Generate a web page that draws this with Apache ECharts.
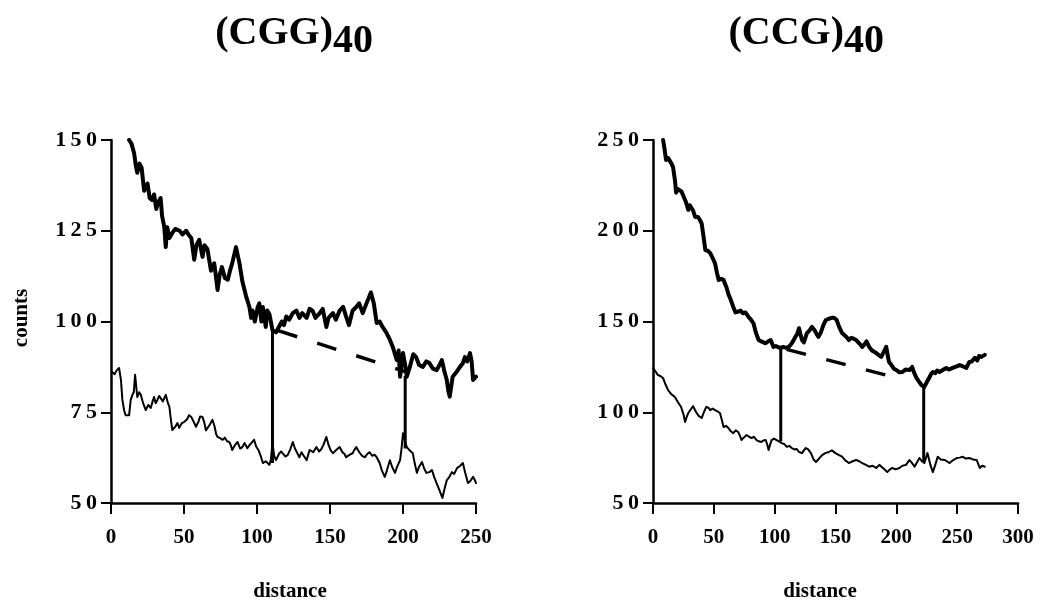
<!DOCTYPE html>
<html>
<head>
<meta charset="utf-8">
<script src="https://cdn.jsdelivr.net/npm/echarts@6/dist/echarts.min.js"></script>
<style>
html,body{margin:0;padding:0;background:#fff;}
#chart{width:1041px;height:610px;}
</style>
</head>
<body>
<div id="chart"></div>
<script>
// ---------- DATA ----------
// Left panel: (CGG)40
var cggTop = [[12.4,150],[14,149],[15.8,146.4],[17,143],[18,141],[19.5,143.5],[21,142.3],[22.7,136],[25,138],[26.5,134],[28,133.5],[29.5,135],[31,131],[32.5,133],[34,134],[35,129],[36.5,126],[37.5,120.5],[38.5,126],[40,123],[42,124.4],[44,125.5],[47,125],[49,124],[51.5,125],[53,124],[55,123],[57,117],[58.5,121],[60.4,122.5],[62.7,117.8],[64,121],[66,120],[68.5,114],[70.7,116],[72,112],[73,108.7],[74.5,113],[76,115],[78,112],[80,111.5],[81.5,114],[83,116],[85.6,120.5],[88,116],[90,111],[92.5,107],[94.8,104],[96,101],[97,103],[98.5,100],[99.6,99.5],[100.5,104],[101.6,105],[103,100],[104,104],[106,98.5],[107,103],[108.5,102],[110.6,97.6],[113,97],[115,98.5],[117,100],[118.5,99],[120,101.4],[122,100.5],[124.5,102.3],[127,103],[129,101],[131,102.3],[134,101],[136,103.5],[138,103],[140,101],[143,102.3],[145,103.5],[147.5,98.5],[149,101],[152,102.3],[154,100.5],[156.6,103],[159,104],[161,101.4],[163,99],[165.5,103],[168,104],[170,105],[172.4,102.3],[175,105],[178,108],[180,105],[182,99.6],[184,100],[186,98.5],[188.5,97],[191,95],[193,93],[195.7,89.4],[197,92],[198,84.8],[200,91.3],[201.5,88],[202.6,84.8],[204.7,87.5],[207,91],[209,90.2],[211,88],[213.6,87.5],[216,89],[218,88.6],[220.5,87],[223,86.6],[225,88],[226.6,89.4],[228.5,86],[230,83.9],[231,81],[232,79.3],[234,84.8],[236.5,86],[239,87.5],[241,88.5],[242.4,90.2],[244,89],[245.9,91.3],[247,89],[248,83.9],[250,84.8]];
var cggBottom = [[0.7,86.1],[2.5,85.5],[4,86.6],[5.5,87.2],[6.8,84],[7.8,78.4],[9,75.5],[10,74.2],[12.4,74.2],[13.5,78.4],[14.7,79.8],[15.6,80.5],[16.5,85.3],[18,79.2],[19.3,80.5],[20.4,79.8],[22,77.5],[23.8,75.6],[25.5,77],[27.2,76.2],[28.5,78],[29.5,79.2],[30.6,77.5],[31.8,78.4],[33,79.5],[34,79.2],[35.5,78],[37.5,79.8],[39,77.5],[40,76.5],[41,73],[42,70.1],[44,71],[45.5,72],[46.7,70.7],[48.5,72],[50,72.3],[52,73],[53.5,74.2],[55,73.7],[56.5,72.5],[58.2,71],[60,72.5],[61,73.8],[62.7,73.7],[64,72],[65,70],[66,69.6],[67.5,71.5],[69.5,72.9],[71,71],[72,69],[73,68.2],[75,67.8],[76.5,67.4],[78,68],[79.5,67],[81,66.8],[82,66],[83,64.6],[85,66],[86.7,66.8],[88.5,65],[90,65.4],[91.5,66.5],[93.4,65.1],[95,66],[96.5,66.7],[98,67.4],[99.5,65.5],[101,64.6],[102.5,63],[104,61],[106,61.5],[107,62],[108.5,60.5],[109.5,62],[110.6,66.5],[111.8,63],[113,61.8],[115,63.5],[116.5,64.2],[117.5,64],[119.5,62.8],[121,63.2],[123,65],[124.5,66.8],[126,65],[127.5,63.8],[129,62.6],[130.5,64],[132,63],[134,61.8],[136,64.6],[138.5,64],[140.7,65.4],[142.5,64.2],[144,64.8],[145.5,66],[147.5,68.2],[149,66],[150.5,64.5],[152,63.7],[154,64.5],[156.6,65.4],[158.5,64],[160,63.5],[161,62.6],[163,63.2],[165.5,63.7],[166.5,64.5],[168,65.4],[170,64],[172,63],[174,62.6],[175.5,63.5],[177,64],[179,63],[180.5,63.3],[182,62.6],[184,61],[185.5,59],[187.5,57.2],[189,59],[191,61.8],[192.5,60],[194.5,58.3],[196,60],[198,61.8],[199,65],[200,69.2],[201,67.5],[202.6,65.4],[204.5,64.5],[206.7,63.7],[208,61],[209.5,58.3],[211,60],[213,61.3],[214.5,59.5],[216,58.3],[218,58.5],[219.8,59.1],[221.5,57],[223,55.5],[225,53.5],[227,51.4],[228.5,54],[230,56.3],[231.5,57],[233.5,58.5],[235,58],[237,59.6],[239,60.2],[241,61],[242.5,58.5],[244.5,55.5],[246,56],[248,57.2],[249,56.5],[250,55.5]];
var cggLinkX = [110.6, 201.5];
var cggLinkTop = [98, 85];
var cggLinkBottom = [61, 65];
var cggBaseline = [[110.6, 98], [201.5, 86.2]];

// Right panel: (CCG)40
var ccgTop = [[8.3,250],[9.5,245],[10.7,239],[12.5,240],[14,239],[15.2,237],[16.5,235],[18,228],[19,221],[20.5,223],[22,224],[23.5,221.5],[24.8,221],[27,216],[29,211.5],[30.3,214],[31.4,215],[33,211],[34.7,207.6],[36,208.5],[37,207.6],[38.5,206],[40,204],[41.5,197],[43,189.4],[45,189],[47,187.7],[49,185],[51,182],[52.5,177],[54,172.9],[56,173.5],[58,172.9],[59,171],[60.3,169],[62,165],[64,161.8],[66,158],[67.8,155],[70,155.5],[72,156],[74,154.5],[76,155],[78.5,152.5],[80.5,151],[82.6,149],[84.5,144],[86.8,139.8],[89,139],[90.5,139.5],[92.6,138],[94.5,139],[96.7,139.8],[99,136],[101,136.5],[103,135.8],[105,135.4],[107,136],[109.5,135.5],[111.6,136],[113.5,137.5],[115,139],[117,141.5],[118.5,143],[120,146.3],[121.2,143],[122.5,139.8],[124,138.5],[125.6,138],[126.5,143.6],[128.5,145],[130.6,147],[133,145],[134.5,143],[136,141.5],[138,144],[140,148],[142,150.8],[144.5,151.5],[147,152],[149,152],[151,150.8],[153,147],[155.4,143.6],[157,144.5],[159,141.5],[161,139.8],[163,141],[165,140.5],[167,139.8],[169.5,138],[172,136],[174,137.5],[175.5,139],[177.7,136],[180,134],[181.5,134.5],[183.5,132.6],[185.5,131.5],[187.6,130.5],[189.5,133],[191.7,136],[193,131],[194,127.7],[196,126],[198,124],[200,123.3],[202.5,122],[205,122.2],[207.5,123.5],[209,123],[211,123.3],[213,125],[214.5,122],[216.5,119],[218.5,117],[220.6,115],[223,114],[225,116.5],[227,119],[228.5,121],[230,122.2],[232,121.5],[233.5,123],[235.5,122.2],[237.5,123],[239,122.5],[241,124.4],[243,123.5],[244.5,124],[246.3,124.4],[248.5,125],[250,124.5],[252,126],[254,125.5],[255.5,125],[257.6,124.4],[260,127.7],[262,128],[264.5,130],[266.5,128.5],[268,131],[270,130.5],[271.5,130],[272.7,131.6]];
var ccgBottom = [[0,124.4],[2,122.5],[4,120.5],[6,120],[8.3,118.8],[10.5,115],[12.4,112.2],[15,110],[18,108.4],[20.5,105.5],[23,103],[25,99],[26.4,94.6],[27.5,97],[29,99.6],[31,101.5],[33,103.4],[34.3,101.5],[35.5,100],[37.5,98],[40,96.8],[41.8,100],[43.8,103],[45.5,102.5],[47,101.2],[49,102],[51,101.2],[53,100.5],[55,99.6],[56.5,96],[58,91.8],[60,92.5],[62,91.3],[64,89.5],[66,88.5],[68,90],[70,89.1],[71.5,87],[72.7,84.7],[74.5,86],[76.9,87.4],[79,86.5],[81,85.8],[83,86.5],[85,84.7],[87,84],[89,83.6],[90.8,84.5],[92.6,84.7],[94,82],[95,79.2],[96.2,82],[97.5,84.7],[99.5,85.5],[101.6,84.7],[103.5,84],[105.8,83],[107.8,82.5],[110,80.9],[112,81.5],[114,80.3],[116,79.5],[118,79.8],[120,78.1],[122.5,77.5],[124,79],[125.6,80.3],[127.5,79.5],[129.8,77.5],[132,74],[134,72.6],[136.5,74.5],[139,76.4],[141.5,77.5],[144.6,78.1],[147,79],[150,77.5],[152.5,76.5],[155.4,75.5],[158,73.5],[161,72],[164,73],[167,73.7],[169.5,73],[172,72],[175,71],[177.7,70],[180.5,70.5],[183.5,69.3],[186,71],[189.5,69],[192.6,67],[194.7,68.5],[196.7,69.3],[199.5,68.5],[202.5,69.3],[205,70.5],[208,71],[210.7,73.7],[213,72],[215,70],[217,72.5],[219,74.8],[221,73],[223,72],[225.6,77.5],[228,71],[230,67],[232,71],[234,75.5],[236.5,74],[239.7,73.7],[241.5,73],[243.8,72],[246.5,73.5],[249.6,74.8],[252,75],[254.5,75.5],[257,74.5],[260,74.8],[263,74],[266,73.7],[268.6,69.3],[270.5,70.5],[272.7,70]];
var ccgLinkX = [105, 222.5];
var ccgLinkTop = [135.4, 114];
var ccgLinkBottom = [84, 72.5];
var ccgBaseline = [[105, 135.5], [200, 119]];

var leftYTicks = [50, 75, 100, 125, 150];
var rightYTicks = [50, 100, 150, 200, 250];
var leftXTicks = [0, 50, 100, 150, 200, 250];
var rightXTicks = [0, 50, 100, 150, 200, 250, 300];

// ---------- CHART ----------
var FONT = 'Liberation Serif';
var chart = echarts.init(document.getElementById('chart'), null, {renderer: 'canvas'});

function spaced(v) { return String(v).split('').join('\u2009'); }

function xAxisCfg(gi, ticks) {
  return {
    type: 'value', gridIndex: gi,
    min: ticks[0], max: ticks[ticks.length - 1], interval: ticks[1] - ticks[0],
    axisLine: {show: true, onZero: false, lineStyle: {color: '#000', width: 2.5}},
    axisTick: {show: true, length: 11, lineStyle: {color: '#000', width: 2}},
    axisLabel: {color: '#000', fontFamily: FONT, fontWeight: 'bold', fontSize: 21, margin: 24},
    splitLine: {show: false}
  };
}
function yAxisCfg(gi, ticks) {
  return {
    type: 'value', gridIndex: gi,
    min: ticks[0], max: ticks[ticks.length - 1], interval: ticks[1] - ticks[0],
    axisLine: {show: true, onZero: false, lineStyle: {color: '#000', width: 2.5}},
    axisTick: {show: true, length: 10, lineStyle: {color: '#000', width: 2}},
    axisLabel: {color: '#000', fontFamily: FONT, fontWeight: 'bold', fontSize: 22, margin: 14,
      formatter: function (v) { return spaced(v); }},
    splitLine: {show: false}
  };
}
function lineSeries(idx, data, width) {
  return {
    type: 'line', xAxisIndex: idx, yAxisIndex: idx, data: data,
    showSymbol: false, symbol: 'none', smooth: false, animation: false, silent: true,
    lineStyle: {color: '#000', width: width, join: 'round', cap: 'round'}
  };
}
function linkSeries(idx, xs, tops, bottoms) {
  var out = [];
  for (var i = 0; i < xs.length; i++) {
    out.push({
      type: 'line', xAxisIndex: idx, yAxisIndex: idx,
      data: [[xs[i], tops[i]], [xs[i], bottoms[i]]],
      showSymbol: false, symbol: 'none', animation: false, silent: true,
      lineStyle: {color: '#000', width: 3}
    });
  }
  return out;
}
function dashSeries(idx, data) {
  return {
    type: 'line', xAxisIndex: idx, yAxisIndex: idx, data: data,
    showSymbol: false, symbol: 'none', animation: false, silent: true,
    lineStyle: {color: '#000', width: 3.5, type: [20, 21], dashOffset: -6}
  };
}

var series = [
  lineSeries(0, cggTop, 4),
  lineSeries(0, cggBottom, 2),
  dashSeries(0, cggBaseline),
  lineSeries(1, ccgTop, 4),
  lineSeries(1, ccgBottom, 2),
  dashSeries(1, ccgBaseline)
].concat(linkSeries(0, cggLinkX, cggLinkTop, cggLinkBottom))
 .concat(linkSeries(1, ccgLinkX, ccgLinkTop, ccgLinkBottom));

var txt = function (x, y, text, size, align, rot) {
  return {
    type: 'text', x: x, y: y, rotation: rot || 0, silent: true,
    style: {text: text, fill: '#000', font: 'bold ' + size + 'px "' + FONT + '"',
      textAlign: align, textVerticalAlign: 'middle'}
  };
};

chart.setOption({
  backgroundColor: '#fff',
  animation: false,
  grid: [
    {left: 111, right: 565, top: 140, bottom: 107},
    {left: 653, right: 23, top: 140, bottom: 107}
  ],
  xAxis: [xAxisCfg(0, leftXTicks), xAxisCfg(1, rightXTicks)],
  yAxis: [yAxisCfg(0, leftYTicks), yAxisCfg(1, rightYTicks)],
  series: series,
  graphic: [
    txt(333, 34, '(CGG)', 40, 'right'),
    txt(333, 42, '40', 40, 'left'),
    txt(844, 34, '(CCG)', 40, 'right'),
    txt(844, 42, '40', 40, 'left'),
    txt(22, 318, 'counts', 21, 'center', Math.PI / 2),
    txt(290, 592, 'distance', 21, 'center'),
    txt(820, 592, 'distance', 21, 'center')
  ]
});
</script>
</body>
</html>
